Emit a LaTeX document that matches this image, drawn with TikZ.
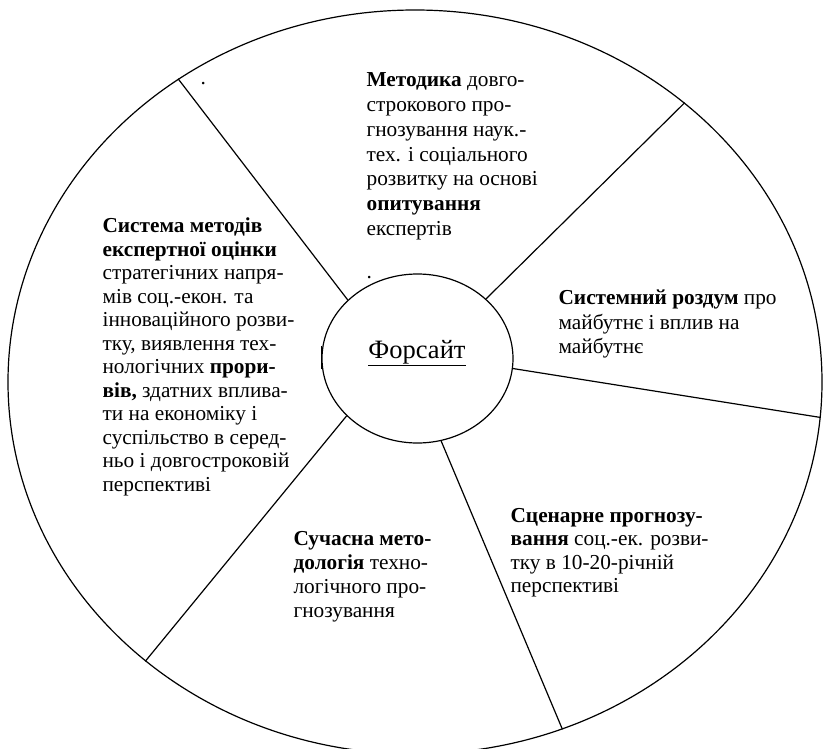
\documentclass[tikz,border=0pt]{standalone}
\usepackage{fontspec}
\setmainfont{Liberation Serif}
\usetikzlibrary{shapes.geometric}
\newcommand\blk[2]{\parbox[t]{330pt}{\fontsize{21.3pt}{#1pt}\selectfont #2}}
\begin{document}
\begin{tikzpicture}[x=1pt,y=-1pt,line width=1.2pt,
  txt/.style={anchor=base west,inner sep=0pt},
  ring/.style={draw,ellipse,inner sep=0pt},
  spoke/.style={draw,line width=1.2pt}]
\useasboundingbox (0,0) rectangle (823,749);
\node[ring,minimum width=814pt,minimum height=744pt] (outer) at (415,382) {};
\node[ring,minimum width=191pt,minimum height=169pt] (fors) at (417.5,358.5) {};
\node[anchor=base,inner sep=0pt] (ftitle) at (417,358) {\fontsize{26.5pt}{30pt}\selectfont\underline{Форсайт}};
\draw[spoke] (fors.140) -- (outer.128);
\draw[spoke] (fors.41) -- (outer.46);
\draw[spoke] (fors.354) -- (outer.355);
\draw[spoke] (fors.286) -- (outer.293);
\draw[spoke] (fors.219) -- (outer.226);
\draw[line width=1.6pt] (321.5,346) -- (321.5,369);
\node[txt] (dot1) at (200,85) {\fontsize{21.3pt}{24pt}\selectfont .};
\node[txt] (dot2) at (366,278) {\fontsize{21.3pt}{24pt}\selectfont .};
\node[txt] (top) at (366,87) {\blk{24.7}{\textbf{Методика} довго-\\строкового про-\\гнозування наук.-\\тех. і соціального\\розвитку на основі\\\textbf{опитування}\\експертів}};
\node[txt] (left) at (102,233) {\blk{23.5}{\textbf{Система методів}\\\textbf{експертної оцінки}\\стратегічних напря-\\мів соц.-екон. та\\інноваційного розви-\\тку, виявлення тех-\\нологічних \textbf{прори-}\\\textbf{вів,} здатних вплива-\\ти на економіку і\\суспільство в серед-\\ньо і довгостроковій\\перспективі}};
\node[txt] (right) at (558,305) {\blk{24.5}{\textbf{Системний роздум} про\\майбутнє і вплив на\\майбутнє}};
\node[txt] (lowr) at (510,522) {\blk{23.5}{\textbf{Сценарне прогнозу-}\\\textbf{вання} соц.-ек. розви-\\тку в 10-20-річній\\перспективі}};
\node[txt] (lowc) at (293,545) {\blk{24}{\textbf{Сучасна мето-}\\\textbf{дологія} техно-\\логічного про-\\гнозування}};
\end{tikzpicture}
\end{document}
